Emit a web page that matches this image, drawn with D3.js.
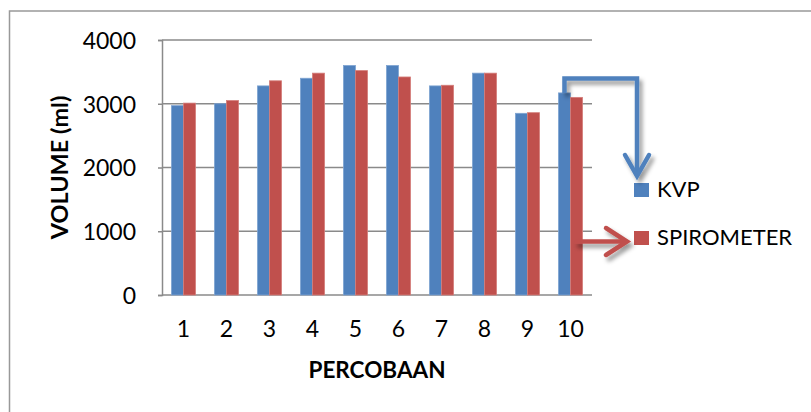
<!DOCTYPE html>
<html>
<head>
<meta charset="utf-8">
<script src="https://cdn.jsdelivr.net/npm/d3@7/dist/d3.min.js"></script>
<style>
  html, body { margin: 0; padding: 0; background: #fff; }
  svg { display: block; font-family: Lato, "Open Sans", sans-serif; }
</style>
</head>
<body>
<svg id="chart" width="811" height="412"></svg>
<script>
const categories = ["1","2","3","4","5","6","7","8","9","10"];
const seriesNames = ["KVP","SPIROMETER"];
const kvp = [2970, 3000, 3280, 3400, 3600, 3600, 3280, 3480, 2850, 3170];
const spirometer = [3010, 3050, 3360, 3480, 3520, 3420, 3290, 3480, 2860, 3100];
const yTicks = [0, 1000, 2000, 3000, 4000];
const colors = ["#4F81BD", "#C0504D"];
const strokeColors = ["#7EA3D1", "#D47E7B"];

const svg = d3.select("#chart");
const defs = svg.append("defs");
const f = defs.append("filter").attr("id","shadow").attr("x","-20%").attr("y","-20%").attr("width","160%").attr("height","160%");
f.append("feDropShadow").attr("dx",3).attr("dy",4).attr("stdDeviation",2.2)
  .attr("flood-color","#000").attr("flood-opacity",0.4);

// outer frame
svg.append("path").attr("d","M9.5,420 L9.5,11 L820,11")
  .attr("fill","none").attr("stroke","#999").attr("stroke-width",1.5);

const pLeft = 162, pRight = 592, pTop = 40, pBottom = 295;
const x = d3.scaleBand().domain(categories).range([pLeft, pRight]).paddingInner(0.44).paddingOuter(0.22);
const xs = d3.scaleBand().domain(seriesNames).range([0, x.bandwidth()]);
const y = d3.scaleLinear().domain([0, 4000]).range([pBottom, pTop]);

// gridlines
svg.append("g").selectAll("line").data(yTicks).join("line")
  .attr("x1", pLeft).attr("x2", pRight)
  .attr("y1", d => y(d)).attr("y2", d => y(d))
  .attr("stroke", "#8a8a8a").attr("stroke-width", 1.5);

// y axis
const yAxis = svg.append("g").attr("transform", `translate(${pLeft},0)`)
  .call(d3.axisLeft(y).tickValues(yTicks).tickSize(4).tickPadding(22).tickFormat(d3.format("d")));
yAxis.select(".domain").attr("stroke", "#8a8a8a").attr("stroke-width", 1.5);
yAxis.selectAll(".tick line").attr("stroke", "#8a8a8a").attr("stroke-width", 1.5);
yAxis.selectAll("text").attr("font-size", 23).attr("fill", "#000").attr("font-family", "Lato").attr("dy","0.36em");

// bars
const data = [kvp, spirometer];
const g = svg.append("g");
seriesNames.forEach((s, si) => {
  g.append("g").selectAll("rect").data(data[si]).join("rect")
    .attr("x", (d, i) => x(categories[i]) + xs(s))
    .attr("width", xs.bandwidth())
    .attr("y", d => y(d))
    .attr("height", d => y(0) - y(d))
    .attr("fill", colors[si])
    .attr("stroke", strokeColors[si]).attr("stroke-width", 0.8);
});

// x axis labels
const xAxis = svg.append("g").attr("transform", `translate(0,${pBottom})`)
  .call(d3.axisBottom(x).tickSize(0).tickPadding(28));
xAxis.select(".domain").remove();
xAxis.selectAll("text").attr("font-size", 23).attr("fill", "#000").attr("font-family", "Lato").attr("dy","0.6em");

// axis titles
svg.append("text").attr("x", (pLeft + pRight) / 2).attr("y", 378)
  .attr("text-anchor", "middle").attr("font-size", 22.5).attr("font-weight", "bold")
  .attr("fill", "#000").text("PERCOBAAN");
svg.append("text").attr("transform", `translate(68,${(pTop + pBottom) / 2}) rotate(-90)`)
  .attr("text-anchor", "middle").attr("font-size", 23.5).attr("font-weight", "bold")
  .attr("fill", "#000").text("VOLUME (ml)");

// legend
const legendY = [183, 231];
seriesNames.forEach((s, i) => {
  svg.append("rect").attr("x", 634).attr("y", legendY[i]).attr("width", 15).attr("height", 14).attr("fill", colors[i]);
  svg.append("text").attr("x", 657).attr("y", legendY[i] + 14).attr("font-size", 22).attr("fill", "#000").text(s);
});

// annotation arrows anchored to bar 10
const last = categories.length - 1;
const bx = x(categories[last]) + xs("KVP") + xs.bandwidth() / 2;
const by = y(kvp[last]);
const ann = svg.append("g").attr("filter", "url(#shadow)").attr("fill", "none")
  .attr("stroke-width", 4.5).attr("stroke-linejoin", "miter");
ann.append("path").attr("d", `M${bx},${by} L${bx},78.5 L637,78.5 L637,175`).attr("stroke", colors[0]);
ann.append("path").attr("d", "M625,155 L637,176 L649,155").attr("stroke", colors[0]).attr("stroke-linecap","round");
const rx = x(categories[last]) + xs("SPIROMETER") + 4;
ann.append("path").attr("d", `M${rx},241.5 L626,241.5`).attr("stroke", colors[1]);
ann.append("path").attr("d", "M606,228 L627,241.5 L606,255").attr("stroke", colors[1]).attr("stroke-linecap","round");
</script>
</body>
</html>
